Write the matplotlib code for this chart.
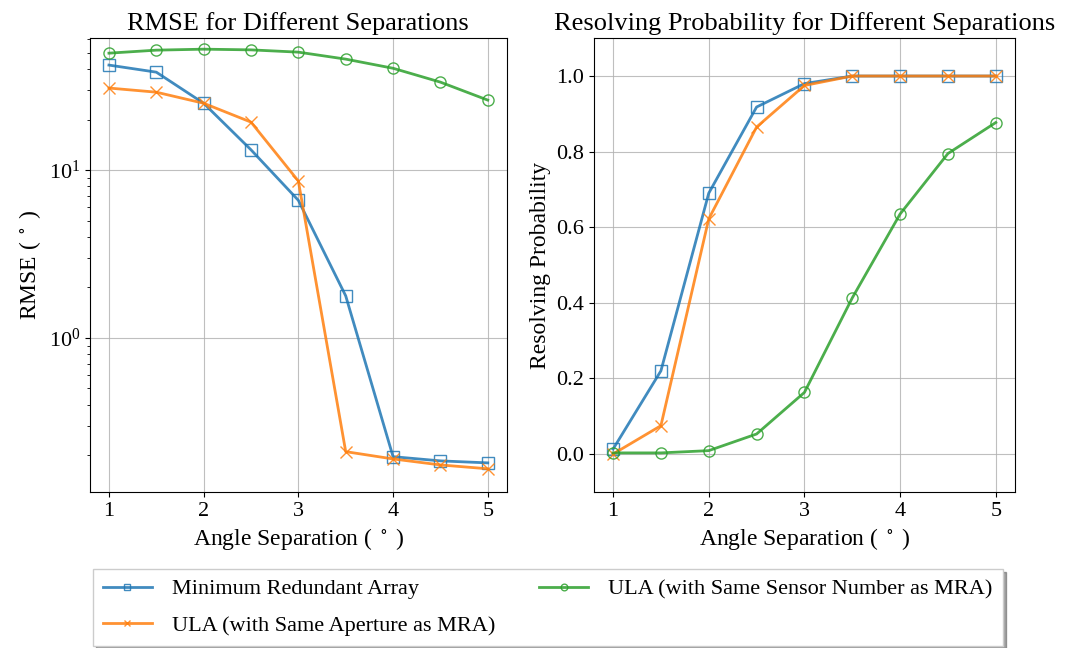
import matplotlib.pyplot as plt

plt.rcParams['font.family'] = ['Liberation Serif', 'DejaVu Serif']
plt.rcParams['mathtext.fontset'] = 'stix'

separations = [1.0, 1.5, 2.0, 2.5, 3.0, 3.5, 4.0, 4.5, 5.0]

labels = ['Minimum Redundant Array',
          'ULA (with Same Aperture as MRA)',
          'ULA (with Same Sensor Number as MRA)']

rmse_mra = [42.2, 38.3, 25.0, 13.2, 6.6, 1.78, 0.196, 0.185, 0.18]
rmse_ula_aperture = [30.8, 29.1, 25.0, 19.3, 8.6, 0.21, 0.19, 0.175, 0.166]
rmse_ula_sensors = [49.7, 51.8, 52.5, 52.0, 50.4, 45.8, 40.4, 33.4, 26.1]

prob_mra = [0.013, 0.22, 0.69, 0.918, 0.98, 1.0, 1.0, 1.0, 1.0]
prob_ula_aperture = [0.0, 0.075, 0.622, 0.865, 0.975, 1.0, 1.0, 1.0, 1.0]
prob_ula_sensors = [0.003, 0.003, 0.009, 0.053, 0.163, 0.413, 0.635, 0.795, 0.877]

markers = ['s', 'x', 'o']
colors = ['tab:blue', 'tab:orange', 'tab:green']


def draw_series(ax, series):
    handles = []
    for values, marker, color, label in zip(series, markers, colors, labels):
        h, = ax.plot(separations, values, marker=marker, color=color,
                     markerfacecolor='none', markersize=8, linewidth=2,
                     alpha=0.85, label=label)
        handles.append(h)
    ax.grid(True, color='#b0b0b0', linewidth=0.8, alpha=0.8)
    ax.tick_params(labelsize=16)
    ax.set_xticks([1, 2, 3, 4, 5])
    ax.set_xlabel('Angle Separation ( $^\\circ$ )', fontsize=17)
    return handles


fig = plt.figure(figsize=(10.74, 6.48), dpi=100)
ax1 = fig.add_axes([0.0838, 0.241, 0.388, 0.7])
ax2 = fig.add_axes([0.553, 0.241, 0.392, 0.7])

handles = draw_series(ax1, [rmse_mra, rmse_ula_aperture, rmse_ula_sensors])
ax1.set_yscale('log')
ax1.set_ylim(0.121, 61)
ax1.set_ylabel('RMSE ( $^\\circ$ )', fontsize=17)
ax1.set_title('RMSE for Different Separations', fontsize=19)

draw_series(ax2, [prob_mra, prob_ula_aperture, prob_ula_sensors])
ax2.set_ylim(-0.1, 1.1)
ax2.set_ylabel('Resolving Probability', fontsize=17)
ax2.set_title('Resolving Probability for Different Separations', fontsize=19)

fig.legend(handles=handles, loc='upper center', ncol=2, fontsize=16,
           bbox_to_anchor=(0.51, 0.122), borderaxespad=0, shadow=True,
           fancybox=False, markerscale=0.6, columnspacing=2.0,
           handlelength=2.2, handletextpad=0.9, labelspacing=0.7,
           borderpad=0.45, edgecolor='#cccccc')

fig.savefig('out.png', dpi=100)
